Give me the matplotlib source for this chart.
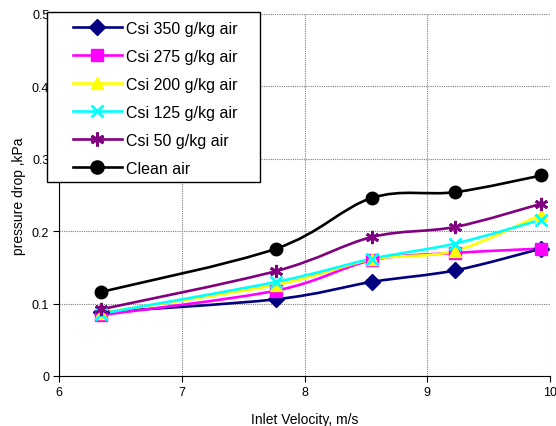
import numpy as np
import matplotlib
matplotlib.use("Agg")
from matplotlib import pyplot as plt
from matplotlib.path import Path
from matplotlib.patches import PathPatch, Rectangle
from matplotlib.lines import Line2D

plt.rcParams['font.family'] = ['Liberation Sans', 'DejaVu Sans']

# data
velocity = [6.34, 7.77, 8.55, 9.23, 9.93]
csi350 = [0.088, 0.106, 0.130, 0.146, 0.176]
csi275 = [0.084, 0.118, 0.160, 0.170, 0.176]
csi200 = [0.087, 0.126, 0.161, 0.173, 0.223]
csi125 = [0.086, 0.130, 0.162, 0.183, 0.216]
csi50 = [0.092, 0.145, 0.192, 0.206, 0.238]
clean = [0.116, 0.176, 0.246, 0.254, 0.277]

labels = ['Csi 350 g/kg air', 'Csi 275 g/kg air', 'Csi 200 g/kg air',
          'Csi 125 g/kg air', 'Csi 50 g/kg air', 'Clean air']
series = [csi350, csi275, csi200, csi125, csi50, clean]
colors = ['#000080', '#FF00FF', '#FFFF00', '#00FFFF', '#800080', '#000000']
markers = ['D', 's', '^', 'x', (6, 2, 0), 'o']
msizes = [8, 8.5, 8.5, 8.5, 9.5, 9]

W, H = 556, 427


def smooth_path(x, y):
    # Catmull-Rom style bezier through the points (like excel smoothed lines)
    p = np.column_stack([x, y]).astype(float)
    n = len(p)
    verts = [p[0]]
    codes = [Path.MOVETO]
    for i in range(n - 1):
        p0 = p[i - 1] if i > 0 else p[i]
        p3 = p[i + 2] if i + 2 < n else p[i + 1]
        c1 = p[i] + (p[i + 1] - p0) / 6
        c2 = p[i + 1] - (p3 - p[i]) / 6
        verts += [c1, c2, p[i + 1]]
        codes += [Path.CURVE4] * 3
    return Path(verts, codes)


fig = plt.figure(figsize=(W / 100, H / 100), dpi=100)
ax = fig.add_axes([59 / W, 1 - 377 / H, 491 / W, 362 / H])

handles = []
for k, (y, c, m, ms) in enumerate(zip(series, colors, markers, msizes)):
    mew = 2 if m in ('x', (6, 2, 0)) else 1
    ax.add_patch(PathPatch(smooth_path(velocity, y), facecolor='none', edgecolor=c,
                           lw=1.9, zorder=2 + k * 0.1))
    ax.plot(velocity, y, linestyle='none', marker=m, color=c, markersize=ms,
            markeredgewidth=mew, zorder=3 + k * 0.1)
    handles.append(Line2D([], [], color=c, lw=1.9, marker=m, markersize=ms + 0.5,
                          markeredgewidth=mew))

ax.set_xlim(6, 10)
ax.set_ylim(0, 0.5)
ax.set_xticks([6, 7, 8, 9, 10])
ax.set_yticks([0, 0.1, 0.2, 0.3, 0.4, 0.5])
ax.set_yticklabels(['0', '0.1', '0.2', '0.3', '0.4', '0.5'])
ax.grid(True, color='#808080', linestyle=(0, (1, 1)), linewidth=0.8)
ax.set_axisbelow(True)
for s in ['top', 'right']:
    ax.spines[s].set_visible(False)
ax.tick_params(direction='out', length=4, labelsize=9, pad=3)
ax.set_xlabel('Inlet Velocity, m/s', fontsize=10, labelpad=10.5)
ax.set_ylabel('pressure drop ,kPa', fontsize=10, labelpad=4)

# legend box drawn by hand so the padding matches the original
fig.patches.append(Rectangle((47 / W, 1 - 183 / H), 213 / W, 170 / H,
                             transform=fig.transFigure, facecolor='white',
                             edgecolor='black', lw=1.0, zorder=4))
leg = fig.legend(handles, labels, loc='upper left', bbox_to_anchor=(73 / W, 1 - 22 / H),
                 bbox_transform=fig.transFigure, borderaxespad=0, borderpad=0,
                 fontsize=11.5, handlelength=3.06, labelspacing=0.81,
                 handletextpad=0.25, frameon=False)
leg.set_zorder(5)

fig.savefig('out.png', dpi=100)
